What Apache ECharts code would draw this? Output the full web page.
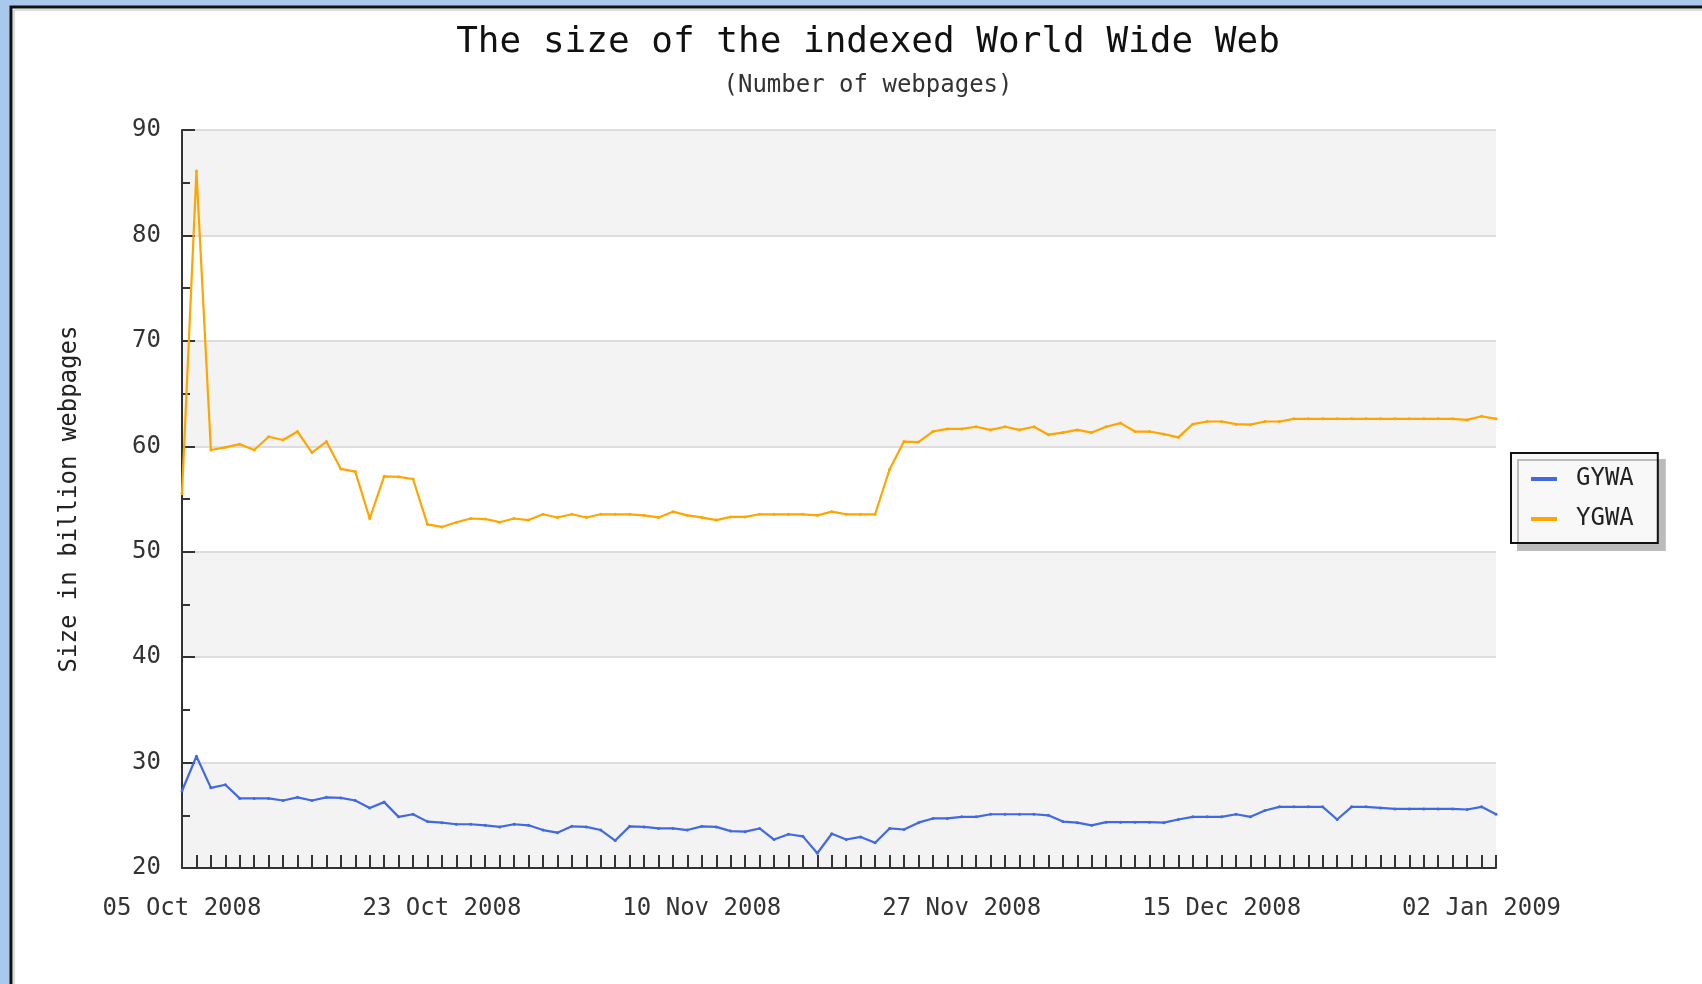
<!DOCTYPE html>
<html>
<head>
<meta charset="utf-8">
<script src="https://cdn.jsdelivr.net/npm/echarts@6/dist/echarts.min.js"></script>
<style>
  html, body { margin: 0; padding: 0; background: #a9c8ec; }
  #main { width: 1702px; height: 984px; }
</style>
</head>
<body>
<div id="main"></div>
<script>
// daily samples, 05 Oct 2008 .. 04 Jan 2009
const tickLabels = ["05 Oct 2008", "23 Oct 2008", "10 Nov 2008", "27 Nov 2008", "15 Dec 2008", "02 Jan 2009"];
const labelStep = 18;

const gywa = [
    27.3, 30.6, 27.6, 27.9, 26.6, 26.6, 26.6, 26.4, 26.7, 26.4,
    26.7, 26.65, 26.4, 25.7, 26.25, 24.85, 25.1, 24.4, 24.3, 24.15,
    24.15, 24.05, 23.9, 24.15, 24.05, 23.6, 23.35, 23.95, 23.9, 23.6,
    22.6, 23.95, 23.9, 23.75, 23.75, 23.6, 23.95, 23.9, 23.5, 23.45,
    23.75, 22.7, 23.2, 23.0, 21.4, 23.25, 22.7, 22.95, 22.4, 23.75,
    23.65, 24.3, 24.7, 24.7, 24.85, 24.85, 25.1, 25.1, 25.1, 25.1,
    25.0, 24.4, 24.3, 24.05, 24.35, 24.35, 24.35, 24.35, 24.3, 24.6,
    24.85, 24.85, 24.85, 25.1, 24.85, 25.45, 25.8, 25.8, 25.8, 25.8,
    24.6, 25.8, 25.8, 25.7, 25.6, 25.6, 25.6, 25.6, 25.6, 25.55,
    25.8, 25.1
];

const ygwa = [
    55.5, 86.1, 59.65, 59.9, 60.2, 59.65, 60.9, 60.6, 61.4, 59.4,
    60.45, 57.85, 57.6, 53.15, 57.15, 57.1, 56.9, 52.6, 52.35, 52.8,
    53.15, 53.1, 52.8, 53.15, 53.0, 53.55, 53.25, 53.55, 53.25, 53.55,
    53.55, 53.55, 53.45, 53.25, 53.8, 53.45, 53.25, 53.0, 53.3, 53.3,
    53.55, 53.55, 53.55, 53.55, 53.45, 53.8, 53.55, 53.55, 53.55, 57.8,
    60.45, 60.4, 61.4, 61.65, 61.65, 61.85, 61.55, 61.85, 61.55, 61.85,
    61.1, 61.3, 61.55, 61.3, 61.85, 62.2, 61.4, 61.4, 61.15, 60.85,
    62.1, 62.35, 62.35, 62.1, 62.05, 62.35, 62.35, 62.6, 62.6, 62.6,
    62.6, 62.6, 62.6, 62.6, 62.6, 62.6, 62.6, 62.6, 62.6, 62.5,
    62.85, 62.6
];

const monthNames = ["Jan", "Feb", "Mar", "Apr", "May", "Jun", "Jul", "Aug", "Sep", "Oct", "Nov", "Dec"];
const days = [];
for (let i = 0; i < gywa.length; i++) {
    let d = new Date(Date.UTC(2008, 9, 5 + i));
    days.push(String(d.getUTCDate()).padStart(2, "0") + " " + monthNames[d.getUTCMonth()] + " " + d.getUTCFullYear());
}

const FONT = "DejaVu Sans Mono";

var myChart = echarts.init(document.getElementById("main"));
var option = {
    backgroundColor: "#a9c8ec",
    animation: false,
    graphic: [
        {
            type: "rect",
            z: -10,
            shape: { x: 11, y: 7, width: 1800, height: 1100 },
            style: { fill: "#ffffff", stroke: "#111111", lineWidth: 3 }
        },
        {
            type: "rect",
            z: -9,
            shape: { x: 14, y: 10, width: 1800, height: 1100 },
            style: { fill: "none", stroke: "#bbbbbb", lineWidth: 1 }
        }
    ],
    title: {
        text: "The size of the indexed World Wide Web",
        subtext: "(Number of webpages)",
        left: 863,
        textAlign: "center",
        top: 20,
        itemGap: 13,
        textStyle: { fontFamily: FONT, fontSize: 36, fontWeight: "normal", color: "#111" },
        subtextStyle: { fontFamily: FONT, fontSize: 24, color: "#333" }
    },
    legend: {
        orient: "vertical",
        left: 1511,
        top: 453,
        padding: [14, 24, 12, 20],
        itemGap: 16,
        itemWidth: 26,
        itemHeight: 4,
        icon: "rect",
        backgroundColor: "#f8f8f8",
        borderColor: "#111",
        borderWidth: 2,
        borderRadius: 0,
        shadowColor: "#bbbbbb",
        shadowBlur: 0,
        shadowOffsetX: 7,
        shadowOffsetY: 7,
        textStyle: { fontFamily: FONT, fontSize: 24, color: "#222", padding: [0, 0, 0, 14] },
        data: ["GYWA", "YGWA"]
    },
    grid: { left: 182, right: 206, top: 130, bottom: 116 },
    xAxis: {
        type: "category",
        data: days,
        boundaryGap: false,
        axisLine: { lineStyle: { color: "#333", width: 2 } },
        axisTick: { show: true, inside: true, length: 13, interval: 0, lineStyle: { color: "#333", width: 2 } },
        axisLabel: {
            interval: function (index) { return index % labelStep === 0; },
            formatter: function (value, index) { return tickLabels[index / labelStep]; },
            margin: 29,
            fontFamily: FONT,
            fontSize: 24,
            color: "#333"
        },
        splitLine: { show: false }
    },
    yAxis: {
        type: "value",
        min: 20,
        max: 90,
        interval: 10,
        name: "Size in billion webpages",
        nameLocation: "middle",
        nameGap: 100,
        nameTextStyle: { fontFamily: FONT, fontSize: 24, color: "#222" },
        axisLine: { show: true, lineStyle: { color: "#333", width: 2 } },
        axisTick: { show: true, inside: true, length: 13, lineStyle: { color: "#333", width: 2 } },
        minorTick: { show: true, splitNumber: 2, length: 8, lineStyle: { color: "#333", width: 2 } },
        axisLabel: { margin: 21, fontFamily: FONT, fontSize: 24, color: "#333", padding: [6, 0, 0, 0] },
        splitLine: { show: true, lineStyle: { color: "#dddddd", width: 2 } },
        splitArea: { show: true, areaStyle: { color: ["#f3f3f3", "#ffffff"] } }
    },
    series: [
        {
            name: "GYWA",
            type: "line",
            data: gywa,
            symbol: "circle",
            symbolSize: 3,
            itemStyle: { color: "#4169e1" },
            lineStyle: { color: "#4169e1", width: 2.2 }
        },
        {
            name: "YGWA",
            type: "line",
            data: ygwa,
            symbol: "circle",
            symbolSize: 3,
            itemStyle: { color: "#ffa500" },
            lineStyle: { color: "#ffa500", width: 2.2 }
        }
    ]
};
myChart.setOption(option);
</script>
</body>
</html>
